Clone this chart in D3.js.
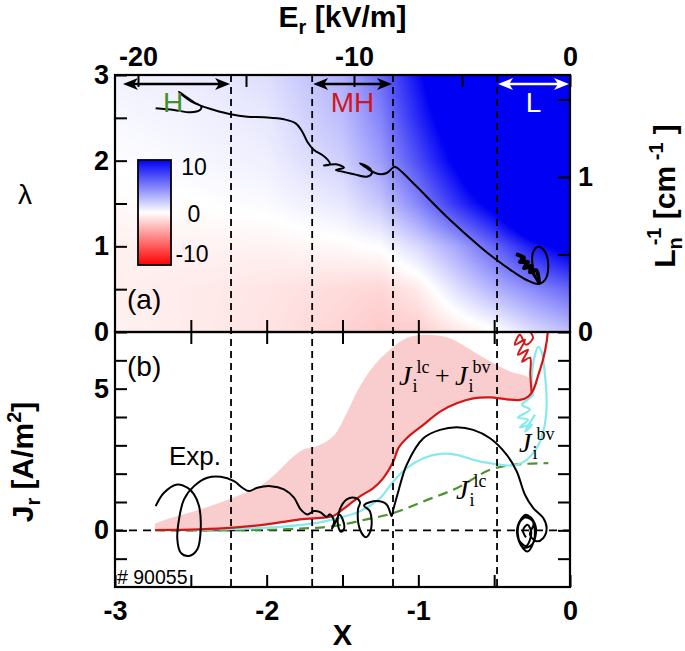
<!DOCTYPE html>
<html><head><meta charset="utf-8">
<script src="https://cdn.jsdelivr.net/npm/d3@7"></script>
<style>body{margin:0;background:#fff}svg{display:block}</style>
</head><body>
<svg id="chart" width="685" height="651"></svg>
<script>
// ---------- data ----------
const xTicks = [-3,-2.5,-2,-1.5,-1,-0.5,0];
const xLabels = [-3,-2,-1,0];
const erTicks = [-20,-15,-10,-5];
const erLabels = [-20,-10,0];
const lamTicks = [0,0.5,1,1.5,2,2.5,3];
const lamLabels = [0,1,2,3];
const lnTicks = [0,0.5,1,1.5];
const lnLabels = [0,1];
const jrTicks = [-1,0,1,2,3,4,5,6];
const jrLabels = [0,5];
const phaseBounds = [-2.235,-1.70,-1.167,-0.481];
const phaseArrows = [
  {name:"H", from:-2.954, to:-2.235},
  {name:"MH", from:-1.70, to:-1.167},
  {name:"L", from:-0.481, to:0}
];
const cbTicks = [10,0,-10];
// heat map field (rows: lambda values, cols: X values)
const heatX = [-3,-2.5,-2,-1.5,-1.25,-1,-0.75,-0.5,-0.25,0];
const heatL = [0,0.5,1,1.5,2,2.5,3];
const heatZ = [
  [-0.5,-0.8,-1.1,-1.7,-2.1,-2.0,-1.0,-0.2,1.3,2.5],
  [-0.6,-0.8,-1.0,-1.4,-1.6,-0.8,1.2,3.0,4.5,6],
  [-0.6,-0.5,-0.5,-0.2,0.1,1.5,3.5,6,9,11],
  [-0.2,-0.05,0.2,0.9,2.2,4.8,8,11,16,20],
  [0.05,0.3,0.6,1.9,3.8,7,10.5,15,20,24],
  [0.3,0.5,0.9,2.6,4.8,8.5,12,18,22,26],
  [0.5,0.8,1.3,3.1,5.8,9.5,14,20,25,30]
];
// panel (a) trajectory [X, lambda]
const trajA = [[-2.732,2.611],[-2.611,2.591],[-2.501,2.564],[-2.440,2.591],[-2.431,2.630],[-2.479,2.681],[-2.534,2.747],[-2.578,2.805],[-2.556,2.766],[-2.501,2.696],[-2.435,2.642],[-2.347,2.591],[-2.237,2.541],[-2.128,2.513],[-2.018,2.506],[-1.886,2.483],[-1.809,2.436],[-1.765,2.338],[-1.732,2.221],[-1.688,2.124],[-1.633,2.066],[-1.596,2.008],[-1.582,1.955],[-1.622,1.944],[-1.543,1.958],[-1.490,1.918],[-1.543,1.891],[-1.490,1.868],[-1.424,1.841],[-1.341,1.813],[-1.307,1.852],[-1.319,1.911],[-1.385,1.969],[-1.345,1.920],[-1.299,1.868],[-1.248,1.841],[-1.205,1.859],[-1.172,1.911],[-1.154,1.930],[-1.033,1.736],[-0.813,1.346],[-0.593,0.996],[-0.483,0.840],[-0.374,0.703],[-0.285,0.607],[-0.209,0.560],[-0.165,0.607],[-0.143,0.762],[-0.165,0.937],[-0.209,0.996],[-0.242,0.937],[-0.246,0.762],[-0.220,0.607],[-0.202,0.560],[-0.264,0.724],[-0.330,0.879]];
const blobA = [[-0.356,0.910],[-0.303,0.864],[-0.330,0.817],[-0.277,0.817],[-0.303,0.747],[-0.251,0.770],[-0.264,0.700],[-0.224,0.724],[-0.204,0.572]];
// panel (b) curves [X, Jr]
const expCurve = [[-2.732,0.856],[-2.677,1.327],[-2.589,1.620],[-2.523,1.504],[-2.479,1.268],[-2.446,0.856],[-2.435,0.035],[-2.457,-0.669],[-2.512,-0.905],[-2.567,-0.785],[-2.589,-0.317],[-2.578,0.387],[-2.545,1.092],[-2.479,1.560],[-2.391,1.856],[-2.303,1.891],[-2.215,1.736],[-2.160,1.504],[-2.116,1.384],[-2.062,1.504],[-1.973,1.560],[-1.886,1.444],[-1.820,1.151],[-1.776,0.739],[-1.732,0.563],[-1.688,0.680],[-1.648,0.644],[-1.604,0.482],[-1.582,0.563],[-1.556,0.317],[-1.569,0.06],[-1.55,0.25],[-1.52,0.55],[-1.50,0.40],[-1.49,0.05],[-1.51,-0.05],[-1.53,0.2],[-1.52,0.7],[-1.472,1.092],[-1.420,1.15],[-1.385,1.0],[-1.398,0.739],[-1.385,0.035],[-1.345,-0.246],[-1.312,0.035],[-1.319,0.669],[-1.358,0.880],[-1.275,1.032],[-1.209,0.915],[-1.176,0.504],[-1.165,0.739],[-1.132,1.373],[-1.077,2.313],[-0.967,3.250],[-0.857,3.546],[-0.747,3.637],[-0.638,3.546],[-0.527,3.250],[-0.417,2.665],[-0.351,2.077],[-0.297,1.257],[-0.242,0.785],[-0.176,0.433],[-0.154,0.081],[-0.176,-0.271],[-0.220,-0.387],[-0.264,-0.151],[-0.24,0.25],[-0.29,0.55],[-0.34,0.2],[-0.33,-0.45],[-0.28,-0.75],[-0.235,-0.3],[-0.25,0.35],[-0.31,0.45],[-0.35,0],[-0.31,-0.6],[-0.25,-0.5],[-0.225,0.1],[-0.27,0.5],[-0.33,0.3],[-0.34,-0.3],[-0.29,-0.55],[-0.255,-0.1],[-0.28,0.2],[-0.31,0.0],[-0.29,-0.25]];
const jSumUpper = [[-2.736,0.141],[-2.736,0.211],[-2.659,0.387],[-2.440,0.739],[-2.220,1.151],[-2.044,1.560],[-1.934,2.032],[-1.846,2.500],[-1.758,2.852],[-1.670,2.968],[-1.561,3.320],[-1.472,4.144],[-1.385,5.081],[-1.297,5.785],[-1.187,6.373],[-1.077,6.785],[-0.967,6.901],[-0.857,6.866],[-0.769,6.725],[-0.638,6.313],[-0.506,5.905],[-0.396,5.609],[-0.285,5.433],[-0.242,5.246],[-0.242,4.954]];
const jSum = [[-2.736,0.011],[-2.440,0.035],[-2.220,0.095],[-2.000,0.211],[-1.780,0.387],[-1.561,0.504],[-1.516,0.669],[-1.385,1.197],[-1.297,1.489],[-1.231,1.842],[-1.165,2.430],[-1.132,2.898],[-1.077,3.250],[-0.967,3.722],[-0.857,4.190],[-0.747,4.482],[-0.638,4.658],[-0.527,4.694],[-0.417,4.623],[-0.330,4.602],[-0.275,4.718],[-0.242,4.954],[-0.209,5.482],[-0.176,6.067],[-0.154,6.655],[-0.143,7.2]];
const jSumTangle = [[-0.253,4.85],[-0.262,5.5],[-0.264,6.092],[-0.316,5.951],[-0.277,6.373],[-0.343,6.197],[-0.297,6.725],[-0.363,6.549],[-0.330,6.901],[-0.290,6.549],[-0.244,6.796],[-0.277,7.1]];
const jBv = [[-2.736,0.0],[-2.000,0.095],[-1.692,0.246],[-1.561,0.387],[-1.385,0.669],[-1.253,1.137],[-1.165,1.725],[-1.077,2.194],[-0.967,2.546],[-0.857,2.701],[-0.747,2.665],[-0.638,2.489],[-0.527,2.370],[-0.417,2.289],[-0.351,2.313],[-0.285,2.489],[-0.220,2.898],[-0.176,3.486],[-0.154,4.426],[-0.165,5.482],[-0.187,6.303],[-0.209,6.479],[-0.231,6.187],[-0.253,5.246],[-0.244,4.789],[-0.316,4.437],[-0.264,4.261],[-0.343,3.979],[-0.277,3.908],[-0.330,3.627],[-0.251,3.732],[-0.297,3.486],[-0.231,4.085]];
const jLc = [[-2.736,0.0],[-2.220,0.0],[-1.780,0.060],[-1.561,0.151],[-1.341,0.387],[-1.165,0.609],[-0.967,1.021],[-0.747,1.489],[-0.527,2.137],[-0.374,2.313],[-0.143,2.370]];

// ---------- layout ----------
const L = 115, R = 570, TA = 75, MID = 332, BB = 587;
const svg = d3.select("#chart");
const x = d3.scaleLinear().domain([-3,0]).range([L,R]);
const er = d3.scaleLinear().domain([-455/21.6,0]).range([L,R]);
const yA = d3.scaleLinear().domain([0,3]).range([MID,TA]);
const ln = d3.scaleLinear().domain([0,257/155]).range([MID,TA]);
const yB = d3.scaleLinear().domain([-2,7]).range([BB,MID]);
const color = d3.scaleLinear().domain([-10,0,10]).range(["#ff0000","#ffffff","#0000f5"]).clamp(true);

const FONT = "'Liberation Sans', Arial, Helvetica, sans-serif";
const SERIF = "'Liberation Serif', 'Times New Roman', serif";

// ---------- heat map ----------
function field(X, lam){
  let i = Math.max(0, Math.min(heatX.length-2, d3.bisectRight(heatX, X)-1));
  let j = Math.max(0, Math.min(heatL.length-2, d3.bisectRight(heatL, lam)-1));
  const tx = Math.max(0, Math.min(1, (X-heatX[i])/(heatX[i+1]-heatX[i])));
  const ty = Math.max(0, Math.min(1, (lam-heatL[j])/(heatL[j+1]-heatL[j])));
  const a = heatZ[j][i], b = heatZ[j][i+1], c = heatZ[j+1][i], d = heatZ[j+1][i+1];
  return (a*(1-tx)+b*tx)*(1-ty) + (c*(1-tx)+d*tx)*ty;
}
{
  const W = R-L, H = MID-TA;
  const cv = document.createElement("canvas"); cv.width = W; cv.height = H;
  const ctx = cv.getContext("2d");
  const im = ctx.createImageData(W,H);
  for (let py=0; py<H; py++){
    const lam = yA.invert(TA+py+0.5);
    for (let px=0; px<W; px++){
      const X = x.invert(L+px+0.5);
      const c = d3.rgb(color(field(X,lam)));
      const k = 4*(py*W+px);
      im.data[k]=c.r; im.data[k+1]=c.g; im.data[k+2]=c.b; im.data[k+3]=255;
    }
  }
  ctx.putImageData(im,0,0);
  svg.append("image").attr("x",L).attr("y",TA).attr("width",W).attr("height",H)
    .attr("preserveAspectRatio","none").attr("href", cv.toDataURL());
}

// clip paths
const defs = svg.append("defs");
defs.append("clipPath").attr("id","clipA").append("rect").attr("x",L).attr("y",TA).attr("width",R-L).attr("height",MID-TA);
defs.append("clipPath").attr("id","clipB").append("rect").attr("x",L).attr("y",MID).attr("width",R-L).attr("height",BB-MID);

// ---------- panel (b) fill & curves ----------
const gB = svg.append("g").attr("clip-path","url(#clipB)");
const areaPts = jSumUpper.concat(jSum.slice(0,21).reverse());
gB.append("path").datum(areaPts)
  .attr("d", d3.line().x(d=>x(d[0])).y(d=>yB(d[1])).curve(d3.curveCatmullRomClosed.alpha(0.5)))
  .attr("fill","#f9cdcd").attr("stroke","none");

// zero line
gB.append("line").attr("x1",L).attr("x2",R).attr("y1",yB(0)).attr("y2",yB(0))
  .attr("stroke","#000").attr("stroke-width",1.6).attr("stroke-dasharray","8,6");

const lineB = d3.line().x(d=>x(d[0])).y(d=>yB(d[1])).curve(d3.curveCatmullRom.alpha(0.5));
gB.append("path").datum(jLc).attr("d",lineB).attr("fill","none").attr("stroke","#4f9330").attr("stroke-width",2.2).attr("stroke-dasharray","10,6");
gB.append("path").datum(jBv).attr("d",lineB).attr("fill","none").attr("stroke","#86e9ee").attr("stroke-width",2.2);
gB.append("path").datum(jSum).attr("d",lineB).attr("fill","none").attr("stroke","#d41616").attr("stroke-width",2.2);
gB.append("path").datum(jSumTangle).attr("d",lineB).attr("fill","none").attr("stroke","#d41616").attr("stroke-width",2);
gB.append("path").datum(expCurve).attr("d",lineB).attr("fill","none").attr("stroke","#000").attr("stroke-width",2);

// ---------- panel (a) trajectory ----------
const gA = svg.append("g").attr("clip-path","url(#clipA)");
const lineA = d3.line().x(d=>x(d[0])).y(d=>yA(d[1])).curve(d3.curveCatmullRom.alpha(0.5));
gA.append("path").datum(trajA).attr("d",lineA).attr("fill","none").attr("stroke","#000").attr("stroke-width",2);
gA.append("path").datum(blobA).attr("d",lineA).attr("fill","none").attr("stroke","#000").attr("stroke-width",4);

// ---------- dashed phase boundaries ----------
svg.append("g").selectAll("line").data(phaseBounds).join("line")
  .attr("x1",d=>x(d)).attr("x2",d=>x(d)).attr("y1",TA).attr("y2",BB)
  .attr("stroke","#000").attr("stroke-width",1.8).attr("stroke-dasharray","7,5");

// ---------- arrows ----------
const arrowY = 84;
const gArr = svg.append("g");
phaseArrows.forEach((p,i) => {
  const col = p.name==="L" ? "#fff" : "#000";
  const x1 = x(p.from)+1, x2 = x(p.to)-1;
  gArr.append("line").attr("x1",x1+6).attr("x2",x2-6).attr("y1",arrowY).attr("y2",arrowY)
    .attr("stroke",col).attr("stroke-width",2.4);
  gArr.append("path").attr("d",`M${x1},${arrowY}L${x1+15},${arrowY-6}L${x1+11},${arrowY}L${x1+15},${arrowY+6}Z`).attr("fill",col);
  gArr.append("path").attr("d",`M${x2},${arrowY}L${x2-15},${arrowY-6}L${x2-11},${arrowY}L${x2-15},${arrowY+6}Z`).attr("fill",col);
});
const phaseColors = {H:"#3f8f2c", MH:"#d3141c", L:"#ffffff"};
svg.append("g").selectAll("text").data(phaseArrows).join("text")
  .attr("x", d => d.name==="H" ? 173 : (x(d.from)+x(d.to))/2)
  .attr("y",112).attr("text-anchor","middle")
  .attr("font-family",FONT).attr("font-size",28)
  .attr("fill",d=>phaseColors[d.name]).text(d=>d.name);

// ---------- colorbar ----------
const cb = d3.scaleLinear().domain([-10,10]).range([265,160]);
const grad = defs.append("linearGradient").attr("id","cbg").attr("x1",0).attr("x2",0).attr("y1",1).attr("y2",0);
d3.range(-10,10.01,2).forEach(v => grad.append("stop").attr("offset",(v+10)/20).attr("stop-color",color(v)));
svg.append("rect").attr("x",138).attr("y",cb(10)).attr("width",33).attr("height",cb(-10)-cb(10))
  .attr("fill","url(#cbg)").attr("stroke","#000").attr("stroke-width",1.8);
svg.append("g").selectAll("text").data(cbTicks).join("text")
  .attr("x", d => d===0 ? 194 : (d>0 ? 194 : 192)).attr("y", d => cb(d) + (d===10?15:(d===-10?-3:9)))
  .attr("text-anchor","middle").attr("font-family",FONT).attr("font-size",23).text(d=>d);

// ---------- frames ----------
svg.append("rect").attr("x",L).attr("y",TA).attr("width",R-L).attr("height",MID-TA).attr("fill","none").attr("stroke","#000").attr("stroke-width",2.2);
svg.append("rect").attr("x",L).attr("y",MID).attr("width",R-L).attr("height",BB-MID).attr("fill","none").attr("stroke","#000").attr("stroke-width",2.2);

// ---------- axes ----------
function styleAxis(g, fs){
  g.select(".domain").remove();
  g.selectAll(".tick line").attr("stroke-width",2);
  g.selectAll("text").attr("font-family",FONT).attr("font-size",fs).attr("font-weight","bold").attr("fill","#000");
}
const fmt = labels => d => labels.includes(d) ? String(d) : "";
svg.append("g").attr("transform",`translate(0,${BB})`)
  .call(d3.axisBottom(x).tickValues(xTicks).tickSize(-12).tickPadding(14).tickFormat(fmt(xLabels)))
  .call(g=>styleAxis(g,27));
svg.append("g").attr("transform",`translate(0,${MID})`)
  .call(d3.axisTop(x).tickValues(xTicks.slice(1,-1)).tickSize(-12).tickFormat(""))
  .call(g=>styleAxis(g,27));
svg.append("g").attr("transform",`translate(0,${MID})`)
  .call(d3.axisBottom(x).tickValues(xTicks.slice(1,-1)).tickSize(-12).tickFormat(""))
  .call(g=>styleAxis(g,27));
svg.append("g").attr("transform",`translate(0,${TA})`)
  .call(d3.axisTop(er).tickValues(erTicks.concat([0])).tickSize(-12).tickPadding(9).tickFormat(fmt(erLabels)))
  .call(g=>styleAxis(g,27));
svg.append("g").attr("transform",`translate(${L},0)`)
  .call(d3.axisLeft(yA).tickValues(lamTicks).tickSize(-12).tickPadding(6).tickFormat(fmt(lamLabels)))
  .call(g=>styleAxis(g,27));
svg.append("g").attr("transform",`translate(${R},0)`)
  .call(d3.axisRight(ln).tickValues(lnTicks).tickSize(-12).tickPadding(8).tickFormat(fmt(lnLabels)))
  .call(g=>styleAxis(g,27));
svg.append("g").attr("transform",`translate(${L},0)`)
  .call(d3.axisLeft(yB).tickValues(jrTicks).tickSize(-12).tickPadding(6).tickFormat(fmt(jrLabels)))
  .call(g=>styleAxis(g,27));
svg.append("g").attr("transform",`translate(${R},0)`)
  .call(d3.axisRight(yB).tickValues(jrTicks).tickSize(-12).tickFormat(""))
  .call(g=>styleAxis(g,27));

// ---------- titles ----------
const tE = svg.append("text").attr("x",(L+R)/2).attr("y",27).attr("text-anchor","middle")
  .attr("font-family",FONT).attr("font-weight","bold").attr("font-size",30);
tE.append("tspan").text("E");
tE.append("tspan").attr("font-size",20).attr("dy",7).text("r");
tE.append("tspan").attr("dy",-7).text(" [kV/m]");

svg.append("text").attr("x",(L+R)/2).attr("y",645).attr("text-anchor","middle")
  .attr("font-family",FONT).attr("font-weight","bold").attr("font-size",29).text("X");

svg.append("text").attr("x",25).attr("y",204).attr("text-anchor","middle")
  .attr("font-family",FONT).attr("font-size",28).text("λ");

const tJ = svg.append("text").attr("transform","translate(33,462) rotate(-90)").attr("text-anchor","middle")
  .attr("font-family",FONT).attr("font-weight","bold").attr("font-size",30);
tJ.append("tspan").text("J");
tJ.append("tspan").attr("font-size",20).attr("dy",7).text("r");
tJ.append("tspan").attr("dy",-7).text(" [A/m");
tJ.append("tspan").attr("font-size",20).attr("dy",-12).text("2");
tJ.append("tspan").attr("dy",12).text("]");

const tL = svg.append("text").attr("transform","translate(675,196) rotate(-90)").attr("text-anchor","middle")
  .attr("font-family",FONT).attr("font-weight","bold").attr("font-size",30);
tL.append("tspan").text("L");
tL.append("tspan").attr("font-size",20).attr("dy",7).text("n");
tL.append("tspan").attr("font-size",20).attr("dx",-8).attr("dy",-21).text("-1");
tL.append("tspan").attr("dy",14).text(" [cm");
tL.append("tspan").attr("font-size",20).attr("dy",-12).text(" -1");
tL.append("tspan").attr("dy",12).text(" ]");

// ---------- panel labels ----------
svg.append("text").attr("x",127).attr("y",309).attr("font-family",FONT).attr("font-size",28).text("(a)");
svg.append("text").attr("x",127).attr("y",376).attr("font-family",FONT).attr("font-size",28).text("(b)");
svg.append("text").attr("x",169).attr("y",465).attr("font-family",FONT).attr("font-size",26).text("Exp.");
svg.append("text").attr("x",117).attr("y",584).attr("font-family",FONT).attr("font-size",19.5).text("# 90055");

function jLabel(px, py, sup){
  const t = svg.append("text").attr("x",px).attr("y",py).attr("font-family",SERIF).attr("font-size",28);
  t.append("tspan").attr("font-style","italic").text("J");
  t.append("tspan").attr("font-size",18).attr("dx",1).attr("dy",7).text("i");
  t.append("tspan").attr("font-size",18).attr("dx",-1).attr("dy",-19).text(sup);
  return t;
}
jLabel(399,385,"lc");
svg.append("text").attr("x",435).attr("y",384).attr("font-family",SERIF).attr("font-size",26).text("+");
jLabel(455,385,"bv");
jLabel(519,452,"bv");
jLabel(456,499,"lc");
</script>
</body></html>
